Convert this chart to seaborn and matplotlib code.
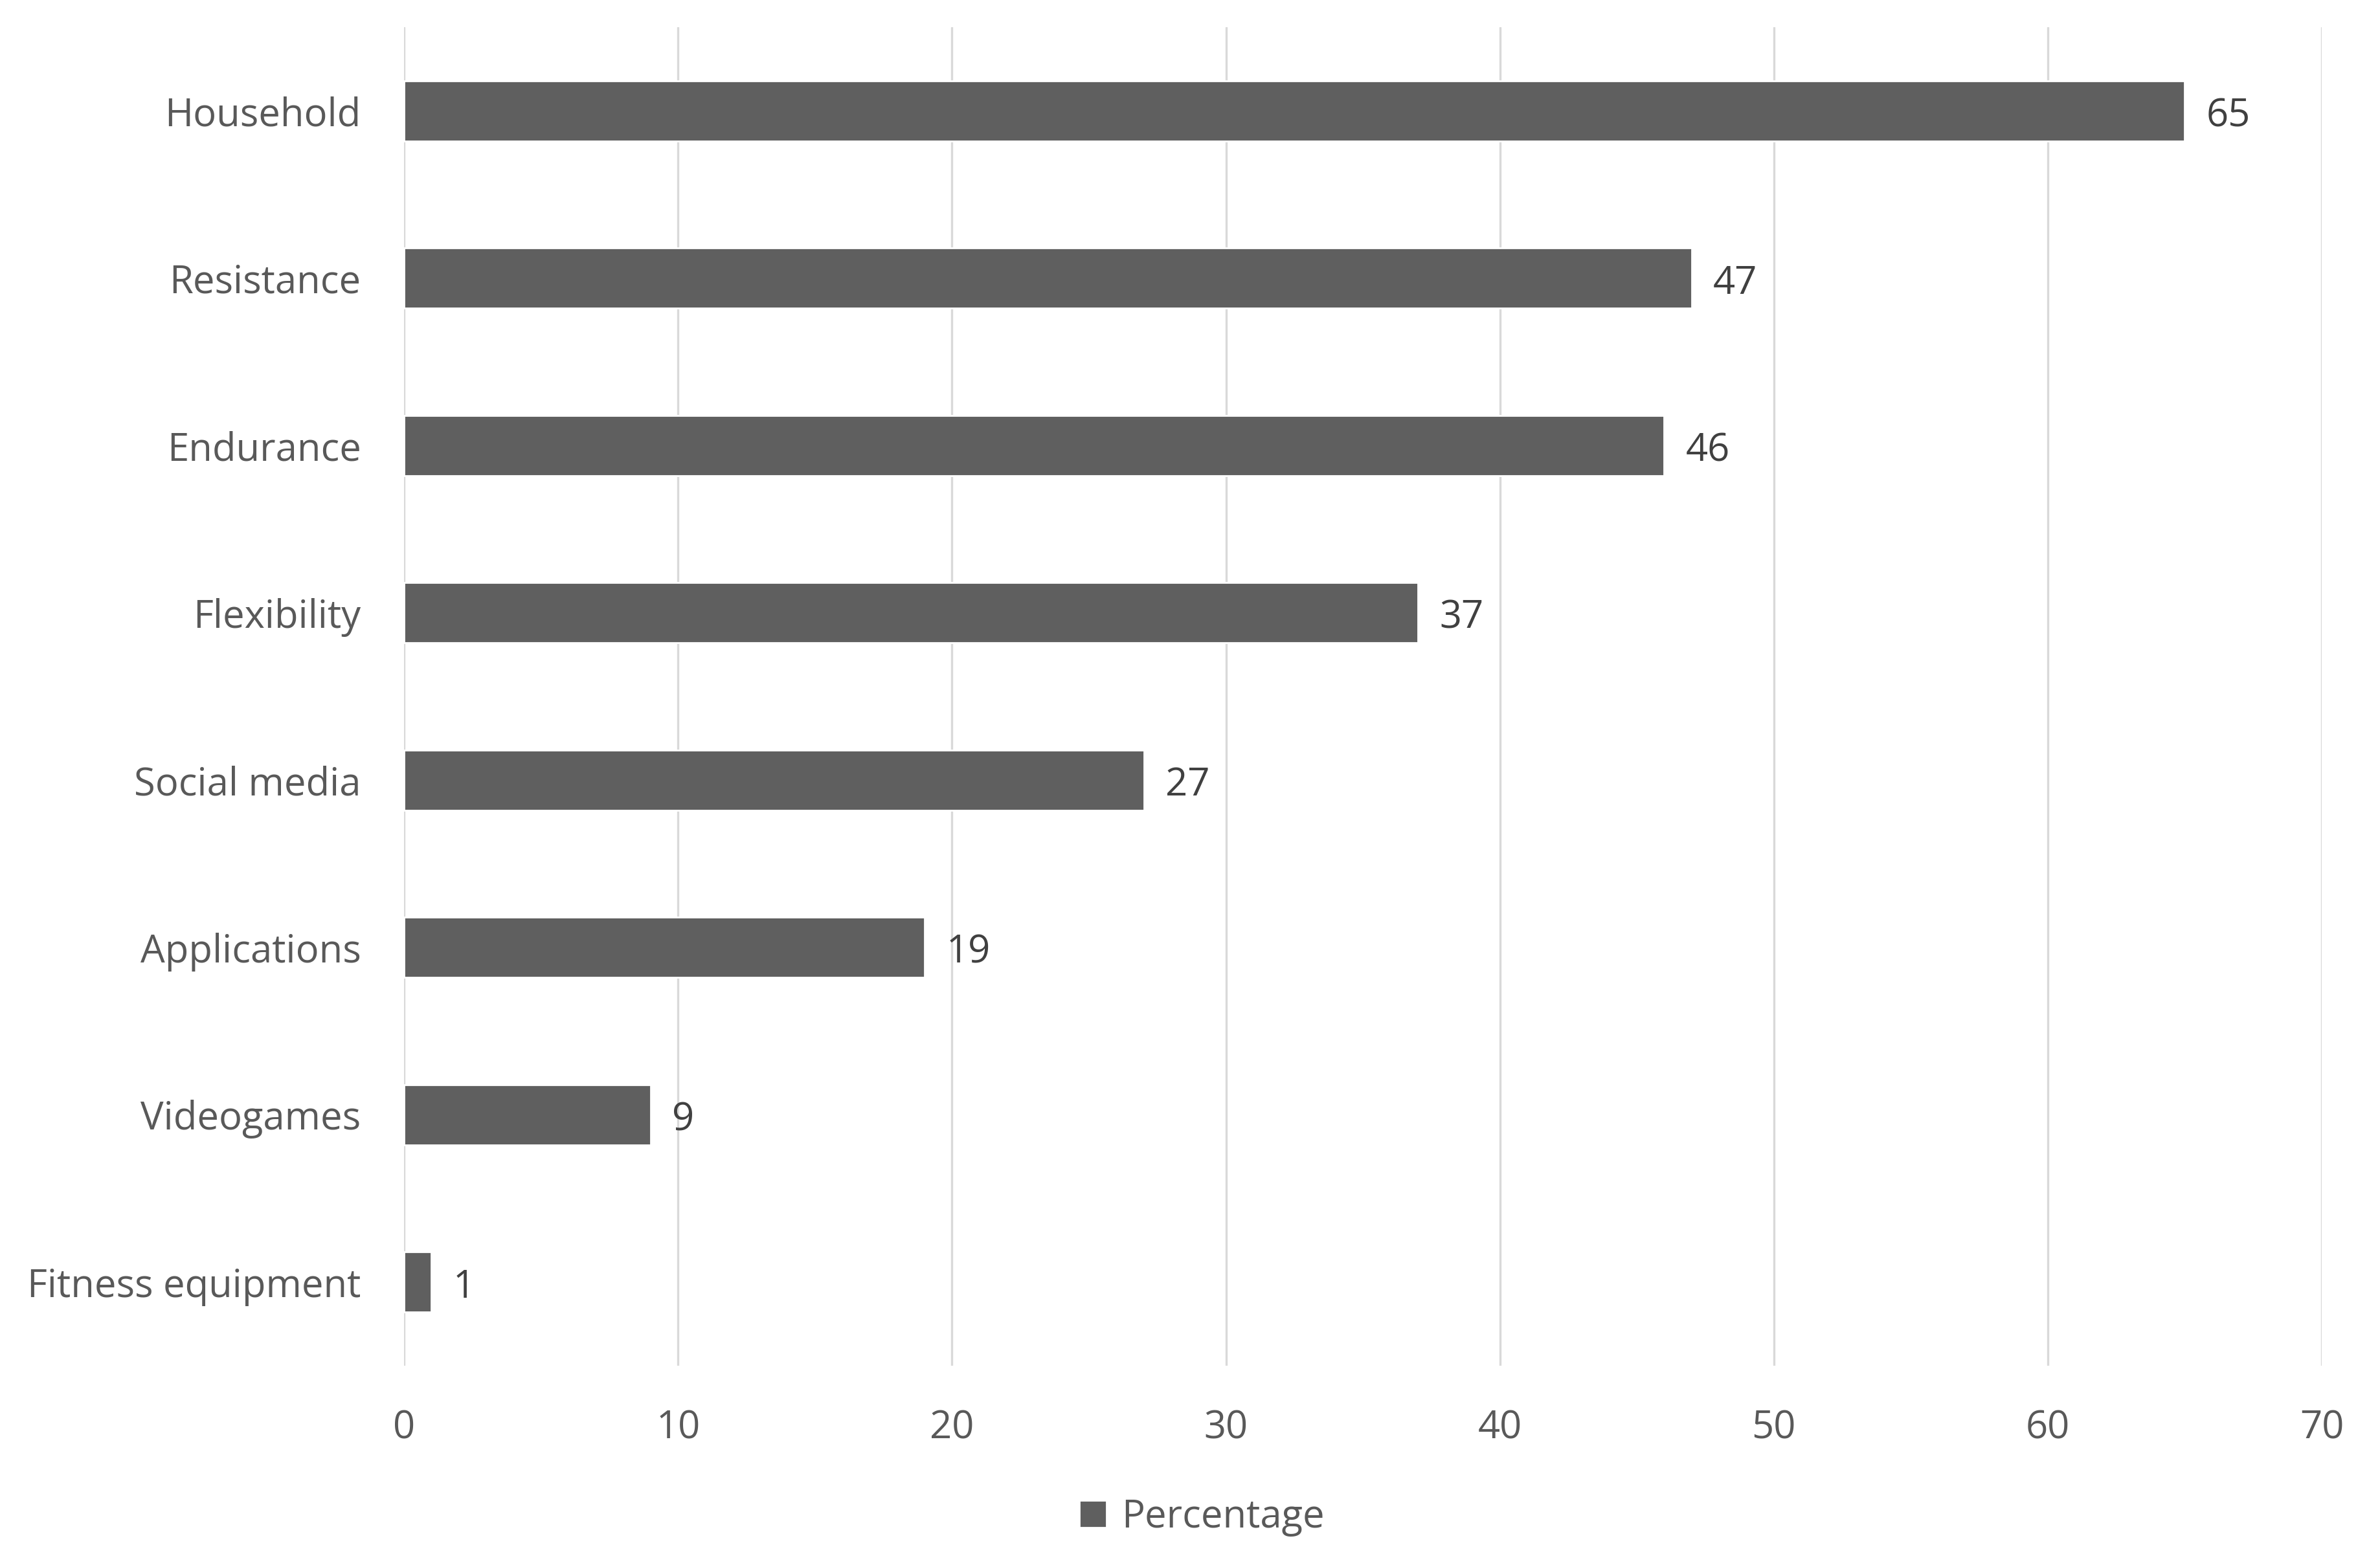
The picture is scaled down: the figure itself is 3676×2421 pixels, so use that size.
import matplotlib
matplotlib.use("Agg")
import matplotlib.pyplot as plt
import seaborn as sns
import pandas as pd

categories = ["Household", "Resistance", "Endurance", "Flexibility",
              "Social media", "Applications", "Videogames", "Fitness equipment"]
percentages = [65, 47, 46, 37, 27, 19, 9, 1]
x_ticks = [0, 10, 20, 30, 40, 50, 60, 70]

df = pd.DataFrame({"Activity": categories, "Percentage": percentages})

sns.set_theme(style="white")
plt.rcParams["font.family"] = ["Open Sans", "DejaVu Sans"]

fig = plt.figure(figsize=(18.38, 12.105), dpi=200)
ax = fig.add_axes([0.1698, 0.1285, 0.8057, 0.8542])

sns.barplot(data=df, y="Activity", x="Percentage", orient="h",
            color="#5f5f5f", saturation=1, width=0.36,
            label="Percentage", ax=ax)

ax.set_xlim(0, 70)
ax.set_xticks(x_ticks)
ax.set_ylim(7.5, -0.5)
ax.set_xlabel("")
ax.set_ylabel("")
ax.grid(axis="x", color="#d9d9d9", linewidth=1.2)
ax.grid(axis="y", visible=False)
ax.set_axisbelow(True)
for s in ax.spines.values():
    s.set_visible(False)
ax.tick_params(axis="both", length=0, labelsize=21.5, colors="#595959")
ax.tick_params(axis="x", pad=24)
ax.tick_params(axis="y", pad=24)

labels = ax.bar_label(ax.containers[0], padding=12, fontsize=21.5, color="#404040")
for t in labels:
    t.xyann = (12, -3)

handles, names = ax.get_legend_handles_labels()
if ax.get_legend() is not None:
    ax.get_legend().remove()
fig.legend(handles, names, loc="center", bbox_to_anchor=(0.505, 0.032),
           frameon=False, fontsize=21.5, labelcolor="#595959",
           handlelength=0.7, handleheight=0.7, handletextpad=0.4)

fig.savefig("out.png", dpi=200)
